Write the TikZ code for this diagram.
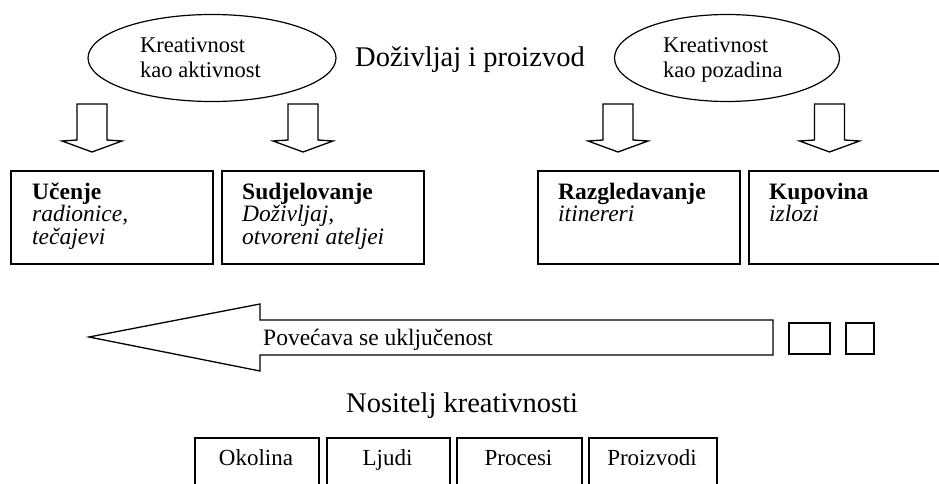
\documentclass[tikz,border=0pt]{standalone}
\usepackage{fontspec}
\setmainfont{Liberation Serif}
\usetikzlibrary{shapes.geometric}
\newcommand\fEll{\fontsize{22.5}{25}\selectfont}
\newcommand\fTitle{\fontsize{28.5}{32}\selectfont}
\newcommand\fBox{\fontsize{23.5}{22.5}\selectfont}
\newcommand\fArr{\fontsize{23.5}{26}\selectfont}
\newcommand\fCarr{\fontsize{23}{26}\selectfont}
\tikzset{
  oval/.style={draw=black, line width=1.2pt, ellipse, inner sep=0pt},
  frame/.style={draw=black, line width=1.8pt, rectangle, inner sep=0pt, anchor=north west},
  txt/.style={inner sep=0pt, anchor=base west},
  blockline/.style={draw=black, line width=1.3pt, line join=miter, fill=white},
  blockdown/.pic={
    \path[blockline] (-15,0) -- (-15,36) -- (-30,37) -- (0,48) -- (30,37) -- (15,36) -- (15,0) -- cycle;
  }
}
\begin{document}
\begin{tikzpicture}[x=1pt,y=-1pt]
\useasboundingbox (0,0) rectangle (939,484);
\clip (0,0) rectangle (939,484);

% ellipses
\node[oval, minimum width=248, minimum height=87] (e1) at (212,58) {};
\node[oval, minimum width=225, minimum height=87] (e2) at (727,58) {};
\node[txt, font=\fEll] (e1a) at (140,53) {Kreativnost};
\node[txt, font=\fEll] (e1b) at (140,78) {kao aktivnost};
\node[txt, font=\fEll] (e2a) at (663,53) {Kreativnost};
\node[txt, font=\fEll] (e2b) at (663,78) {kao pozadina};
\node[txt, font=\fTitle] (title) at (355,67) {Doživljaj i proizvod};

% block arrows down
\pic at (92,104) {blockdown};
\pic at (303,104) {blockdown};
\pic at (618,104) {blockdown};
\pic at (829.5,104) {blockdown};

% upper boxes
\node[frame, minimum width=202, minimum height=93] (b1) at (10,170) {};
\node[frame, minimum width=202, minimum height=93] (b2) at (221,170) {};
\node[frame, minimum width=202, minimum height=93] (b3) at (537,170) {};
\node[frame, minimum width=220, minimum height=93] (b4) at (748,170) {};

\node[txt, font=\fBox] (b1t) at (32,199) {\textbf{Učenje}};
\node[txt, font=\fBox] (b1s) at (32,221.5) {\textit{radionice,}};
\node[txt, font=\fBox] (b1u) at (32,244) {\textit{tečajevi}};
\node[txt, font=\fBox] (b2t) at (242,199) {\textbf{Sudjelovanje}};
\node[txt, font=\fBox] (b2s) at (242,221.5) {\textit{Doživljaj,}};
\node[txt, font=\fBox] (b2u) at (242,244) {\textit{otvoreni ateljei}};
\node[txt, font=\fBox] (b3t) at (558,199) {\textbf{Razgledavanje}};
\node[txt, font=\fBox] (b3s) at (558,221.5) {\textit{itinereri}};
\node[txt, font=\fBox] (b4t) at (769,199) {\textbf{Kupovina}};
\node[txt, font=\fBox] (b4s) at (769,221.5) {\textit{izlozi}};

% big left arrow
\path[blockline] (89,337) -- (260,304) -- (260,320) -- (773,320) -- (773,355) -- (260,355) -- (260,371) -- cycle;
\node[txt, font=\fArr] (incr) at (263,345) {Povećava se uključenost};

% small squares
\node[frame, line width=1.6pt, minimum width=41, minimum height=31] (s1) at (788,322) {};
\node[frame, line width=1.6pt, minimum width=28, minimum height=31] (s2) at (845,322) {};

% carriers
\node[txt, font=\fTitle] (carr) at (346,412) {Nositelj kreativnosti};
\node[frame, minimum width=124, minimum height=70] (c1) at (194,437) {};
\node[frame, minimum width=123, minimum height=70] (c2) at (326,437) {};
\node[frame, minimum width=125, minimum height=70] (c3) at (456,437) {};
\node[frame, minimum width=128, minimum height=70] (c4) at (588,437) {};
\node[inner sep=0pt, anchor=base, font=\fCarr] (c1t) at (256,465) {Okolina};
\node[inner sep=0pt, anchor=base, font=\fCarr] (c2t) at (387.5,465) {Ljudi};
\node[inner sep=0pt, anchor=base, font=\fCarr] (c3t) at (518.5,465) {Procesi};
\node[inner sep=0pt, anchor=base, font=\fCarr] (c4t) at (652,465) {Proizvodi};
\end{tikzpicture}
\end{document}
